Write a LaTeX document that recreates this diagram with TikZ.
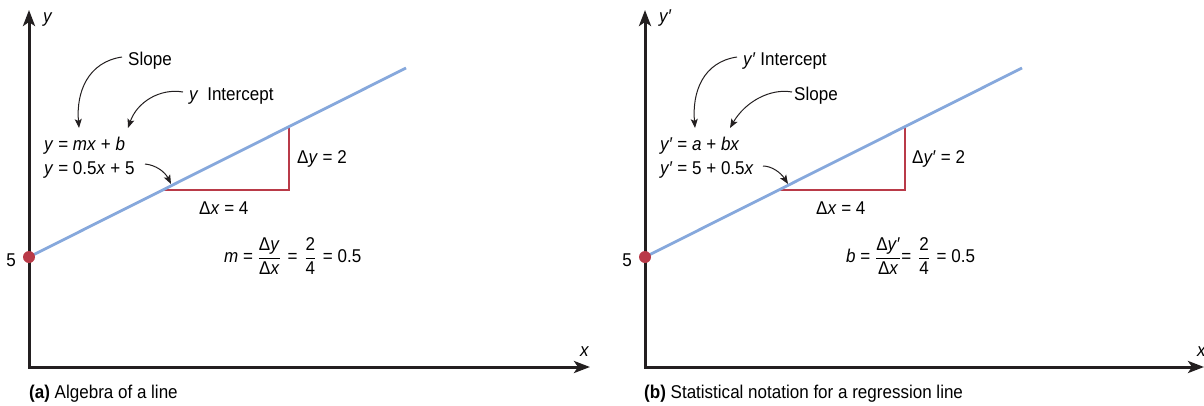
\documentclass[tikz,border=0pt]{standalone}
\usepackage{amsmath}
\usepackage{fontspec}
\setmainfont[FakeStretch=0.92]{Liberation Sans}
\usetikzlibrary{arrows.meta}
\definecolor{axisc}{HTML}{231F20}
\definecolor{linec}{HTML}{86A8DC}
\definecolor{redc}{HTML}{B93A48}
\newcommand{\vi}[1]{\textit{#1}}
\newcommand{\fsp}{\hspace{2pt}}
\begin{document}
\begin{tikzpicture}[x=1pt,y=-1pt,
  font=\fontsize{18.5}{21}\selectfont,
  axes/.style={line width=3pt, draw=axisc, {Stealth[length=16pt,width=12pt,inset=4pt]}-{Stealth[length=16pt,width=12pt,inset=4pt]}},
  regline/.style={line width=2.8pt, draw=linec},
  tri/.style={line width=2.8pt, draw=redc},
  dotc/.style={circle, fill=redc, inner sep=0pt, minimum size=12pt},
  note/.style={-{Stealth[length=9pt,width=7pt,inset=2pt]}, line width=1pt, draw=axisc},
  lbl/.style={inner sep=0pt, anchor=base west},
  captext/.style={inner sep=0pt, anchor=base west}]
\useasboundingbox (0,0) rectangle (1204,405);

% ---------- panel (a) ----------
\coordinate (aY) at (29,10);
\coordinate (aO) at (29,367);
\coordinate (aX) at (590,367);
\draw[axes] (aY) -- (aO) -- (aX);
\node[lbl] (aylab) at (43,22) {\vi{y}};
\node[lbl] (axlab) at (580,356) {\vi{x}};
\coordinate (aA) at (29,257);
\coordinate (aB) at (406,68);
\coordinate (aP) at (162,190);
\coordinate (aQ) at (289,190);
\coordinate (aR) at (289,126);
\draw[tri] (aP) -- (aQ) -- (aR);
\draw[regline] (aA) -- (aB);
\node[dotc] (adot) at (aA) {};
\node[inner sep=0pt, anchor=east] (afive) at (16,260) {5};
\node[lbl] (aslope) at (128,65) {Slope};
\node[lbl] (aint) at (189,100) {\vi{y}\hspace{4pt} Intercept};
\node[lbl] (aeq1) at (44,150) {\vi{y} = \vi{mx} + \vi{b}};
\node[lbl] (aeq2) at (44,174) {\vi{y} = 0.5\vi{x} + 5};
\node[lbl] (ady) at (297,163) {Δ\vi{y} = 2};
\node[lbl] (adx) at (199,214) {Δ\vi{x} = 4};
\node[inner sep=0pt, anchor=west] (am) at (224,256) {\vi{m} =~$\dfrac{\text{Δ\vi{y}}}{\text{Δ\vi{x}}}$~\fsp=~\fsp$\dfrac{\text{2}}{\text{4}}$~\fsp= 0.5};
\node[captext] (acap) at (29,398) {\textbf{(a)} Algebra of a line};
\coordinate (at1) at (79,128);
\coordinate (at2) at (128,128);
\coordinate (at3) at (171,184);
\draw[note] (122,57) .. controls (88,62) and (76,92) .. (at1);
\draw[note] (183,92) .. controls (160,88) and (137,102) .. (at2);
\draw[note] (145,164) .. controls (156,165) and (165,172) .. (at3);

% ---------- panel (b) ----------
\coordinate (bY) at (645,10);
\coordinate (bO) at (645,367);
\coordinate (bX) at (1204,367);
\draw[axes] (bY) -- (bO) -- (bX);
\node[lbl] (bylab) at (659,22) {\vi{y}′};
\node[lbl] (bxlab) at (1197,356) {\vi{x}};
\coordinate (bA) at (645,257);
\coordinate (bB) at (1022,68);
\coordinate (bP) at (778,190);
\coordinate (bQ) at (905,190);
\coordinate (bR) at (905,126);
\draw[tri] (bP) -- (bQ) -- (bR);
\draw[regline] (bA) -- (bB);
\node[dotc] (bdot) at (bA) {};
\node[inner sep=0pt, anchor=east] (bfive) at (632,260) {5};
\node[lbl] (bint) at (743,65) {\vi{y}′ Intercept};
\node[lbl] (bslope) at (794,100) {Slope};
\node[lbl] (beq1) at (660,150) {\vi{y}′ = \vi{a} + \vi{bx}};
\node[lbl] (beq2) at (660,174) {\vi{y}′ = 5 + 0.5\vi{x}};
\node[lbl] (bdy) at (912,163) {Δ\vi{y}′ = 2};
\node[lbl] (bdx) at (816,214) {Δ\vi{x} = 4};
\node[inner sep=0pt, anchor=west] (bm) at (846,256) {\vi{b} =~$\dfrac{\text{Δ\vi{y}′}}{\text{Δ\vi{x}}}$=~\fsp$\dfrac{\text{2}}{\text{4}}$~\fsp= 0.5};
\node[captext] (bcap) at (644,398) {\textbf{(b)} Statistical notation for a regression line};
\coordinate (bt1) at (695,128);
\coordinate (bt2) at (730,128);
\coordinate (bt3) at (788,184);
\draw[note] (737,57) .. controls (703,62) and (692,92) .. (bt1);
\draw[note] (792,92) .. controls (770,88) and (745,102) .. (bt2);
\draw[note] (763,166) .. controls (772,166) and (781,173) .. (bt3);
\end{tikzpicture}
\end{document}
